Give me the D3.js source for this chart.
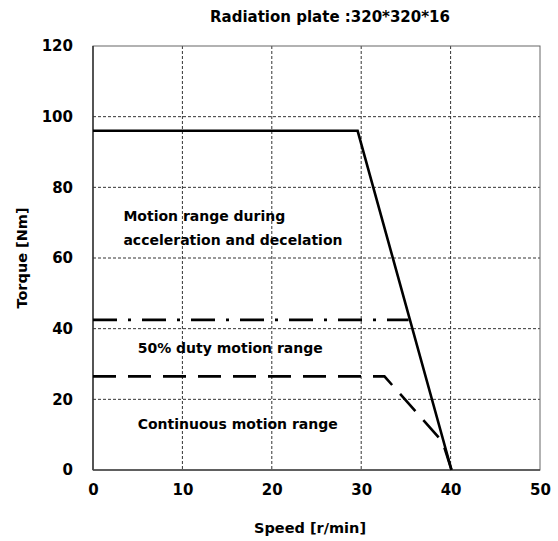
<!DOCTYPE html>
<html>
<head>
<meta charset="utf-8">
<script src="https://d3js.org/d3.v7.min.js"></script>
<style>
body { margin: 0; padding: 0; background: #fff; }
text { font-family: "DejaVu Sans", sans-serif; font-weight: bold; fill: #000; }
</style>
</head>
<body>
<svg id="chart" width="558" height="541"></svg>
<script>
// data
var xTicks = [0, 10, 20, 30, 40, 50];
var yTicks = [0, 20, 40, 60, 80, 100, 120];
var accelLine = [[0, 96], [29.6, 96], [40.1, 0]];      // solid
var dutyLine = [[0, 42.5], [35.3, 42.5]];             // dash-dot
var contLine = [[0, 26.5], [32.6, 26.5], [39.1, 8], [40.1, 0]]; // dashed
var notes = [
	{ lines: ["Motion range during", "acceleration and decelation"], x: 3.4, y: 70.5 },
	{ lines: ["50% duty motion range"], x: 5, y: 33 },
	{ lines: ["Continuous motion range"], x: 5, y: 11.5 }
];

var svg = d3.select("#chart");
var margin = { left: 93, right: 18, top: 46, bottom: 71 };
var w = 558 - margin.left - margin.right,
	h = 541 - margin.top - margin.bottom;

var x = d3.scaleLinear().domain([0, 50]).range([0, w]);
var y = d3.scaleLinear().domain([0, 120]).range([h, 0]);

var g = svg.append("g").attr("transform", "translate(" + margin.left + "," + margin.top + ")");

// grid
g.selectAll(".vgrid").data(xTicks.slice(1, -1)).enter().append("line")
	.attr("x1", d => x(d)).attr("x2", d => x(d))
	.attr("y1", 0).attr("y2", h)
	.attr("stroke", "#333").attr("stroke-width", 1).attr("stroke-dasharray", "3,2");
g.selectAll(".hgrid").data(yTicks.slice(1, -1)).enter().append("line")
	.attr("x1", 0).attr("x2", w)
	.attr("y1", d => y(d)).attr("y2", d => y(d))
	.attr("stroke", "#333").attr("stroke-width", 1).attr("stroke-dasharray", "3,2");

// frame
g.append("rect").attr("width", w).attr("height", h)
	.attr("fill", "none").attr("stroke", "#666").attr("stroke-width", 1);
g.append("line").attr("x1", 0).attr("x2", 0).attr("y1", 0).attr("y2", h)
	.attr("stroke", "#222").attr("stroke-width", 1.3);
g.append("line").attr("x1", 0).attr("x2", w).attr("y1", h).attr("y2", h)
	.attr("stroke", "#444").attr("stroke-width", 1.5);

// axes
var xAxis = d3.axisBottom(x).tickValues(xTicks).tickSize(0).tickPadding(14);
var yAxis = d3.axisLeft(y).tickValues(yTicks).tickSize(0).tickPadding(20);
g.append("g").attr("transform", "translate(0," + h + ")").call(xAxis)
	.call(s => s.select(".domain").remove())
	.selectAll("text").style("font-size", "15px").style("font-family", "DejaVu Sans, sans-serif").style("font-weight", "bold").attr("fill", "#000");
g.append("g").call(yAxis)
	.call(s => s.select(".domain").remove())
	.selectAll("text").style("font-size", "15px").style("font-family", "DejaVu Sans, sans-serif").style("font-weight", "bold").attr("fill", "#000");

// curves
var line = d3.line().x(d => x(d[0])).y(d => y(d[1]));
g.append("path").datum(accelLine).attr("d", line)
	.attr("fill", "none").attr("stroke", "#000").attr("stroke-width", 2.6);
g.append("path").datum(dutyLine).attr("d", line)
	.attr("fill", "none").attr("stroke", "#000").attr("stroke-width", 2.6)
	.attr("stroke-dasharray", "24,11,3,11");
g.append("path").datum(contLine).attr("d", line)
	.attr("fill", "none").attr("stroke", "#000").attr("stroke-width", 2.6)
	.attr("stroke-dasharray", "23,12");

// annotations
notes.forEach(function(n) {
	var t = g.append("text").attr("x", x(n.x)).attr("y", y(n.y)).style("font-size", "14px");
	n.lines.forEach(function(s, i) {
		t.append("tspan").attr("x", x(n.x)).attr("dy", i === 0 ? 0 : 24).text(s);
	});
});

// titles
svg.append("text").attr("x", 330).attr("y", 22).attr("text-anchor", "middle")
	.style("font-size", "15px").text("Radiation plate :320*320*16");
svg.append("text").attr("x", 310).attr("y", 533).attr("text-anchor", "middle")
	.style("font-size", "14.5px").text("Speed [r/min]");
svg.append("text").attr("transform", "translate(27,258) rotate(-90)").attr("text-anchor", "middle")
	.style("font-size", "14.5px").text("Torque [Nm]");
</script>
</body>
</html>
